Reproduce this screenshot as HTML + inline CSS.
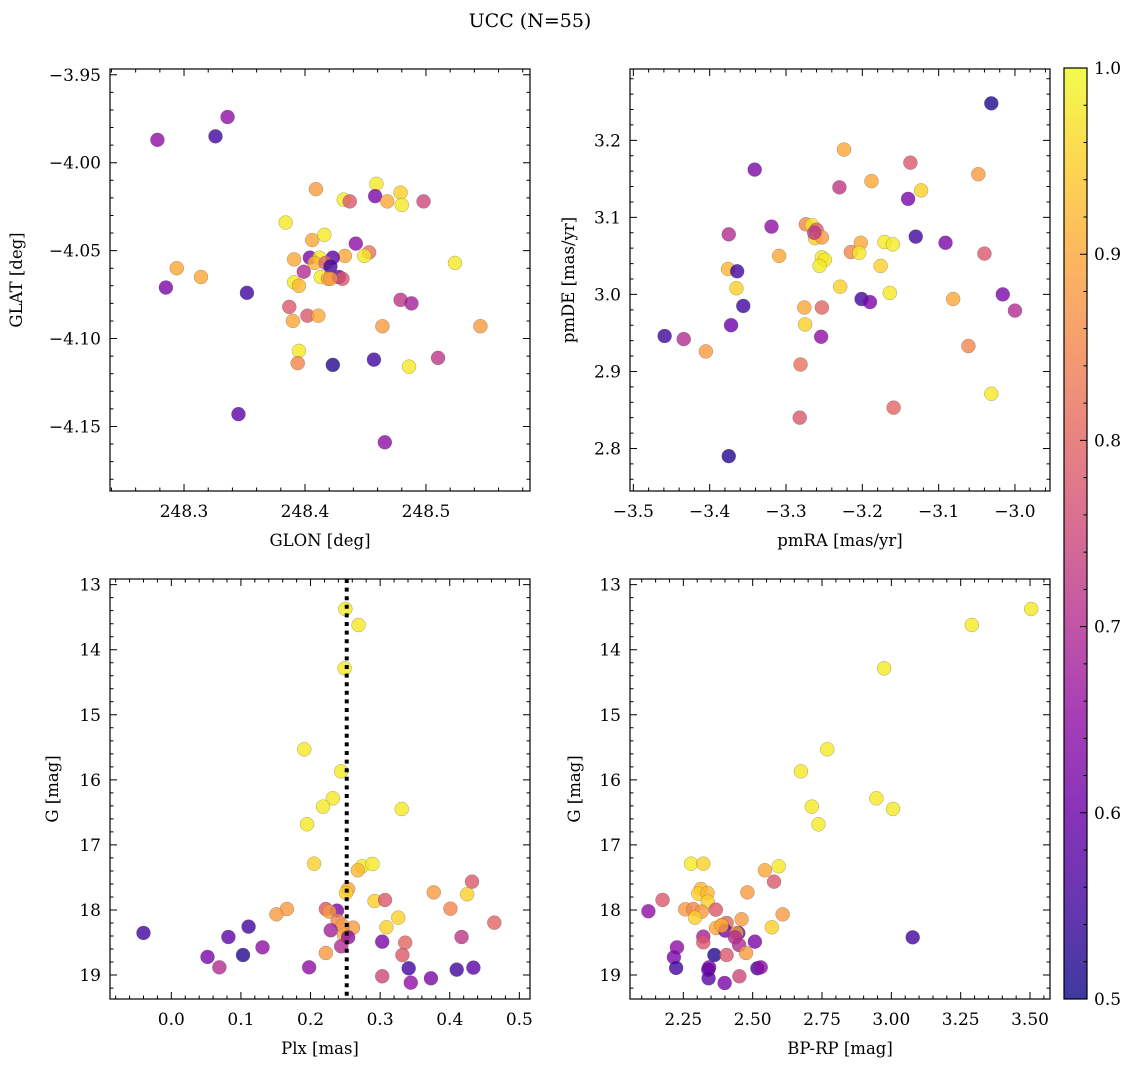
<!DOCTYPE html>
<html><head><meta charset="utf-8">
<style>
html,body{margin:0;padding:0;background:#fff;}
svg{display:block;font-family:"DejaVu Serif","Liberation Serif",serif;}
</style></head>
<body>
<svg id="chart" width="1136" height="1067" viewBox="0 0 1136 1067" xmlns="http://www.w3.org/2000/svg">
<text x="530" y="27" font-size="19" text-anchor="middle">UCC (N=55)</text>
</svg>
<script>
// ---- Panel 1: GLON vs GLAT ----
const glon=[248.278,248.326,248.336,248.409,248.432,248.437,248.459,248.458,248.468,248.479,248.480,248.498,248.384,248.406,248.416,248.442,248.453,248.449,248.433,248.391,248.404,248.412,248.423,248.408,248.417,248.421,248.399,248.524,248.294,248.314,248.285,248.352,248.391,248.395,248.413,248.419,248.428,248.431,248.421,248.387,248.402,248.411,248.390,248.479,248.488,248.464,248.545,248.395,248.394,248.423,248.457,248.486,248.510,248.345,248.466];
const glat=[-3.987,-3.985,-3.974,-4.015,-4.021,-4.022,-4.012,-4.019,-4.022,-4.017,-4.024,-4.022,-4.034,-4.044,-4.041,-4.046,-4.051,-4.053,-4.053,-4.055,-4.054,-4.054,-4.054,-4.057,-4.057,-4.059,-4.062,-4.057,-4.060,-4.065,-4.071,-4.074,-4.068,-4.070,-4.065,-4.066,-4.065,-4.066,-4.066,-4.082,-4.087,-4.087,-4.090,-4.078,-4.080,-4.093,-4.093,-4.107,-4.114,-4.115,-4.112,-4.116,-4.111,-4.143,-4.159];
const prob1=[.65,.55,.65,.88,.98,.78,.98,.62,.9,.95,.98,.75,.98,.9,.98,.65,.82,.98,.9,.9,.62,.98,.58,.92,.8,.55,.7,.98,.9,.9,.62,.55,.98,.92,.98,.9,.6,.78,.88,.78,.78,.9,.9,.72,.68,.88,.88,.98,.85,.52,.55,.98,.72,.58,.65];
// ---- Panel 2: pmRA vs pmDE ----
const pmra=[-3.031,-3.224,-3.137,-3.341,-3.048,-3.188,-3.230,-3.123,-3.140,-3.319,-3.375,-3.274,-3.266,-3.260,-3.262,-3.253,-3.130,-3.091,-3.202,-3.171,-3.160,-3.215,-3.204,-3.040,-3.309,-3.253,-3.249,-3.256,-3.176,-3.376,-3.364,-3.365,-3.229,-3.164,-3.016,-3.201,-3.190,-3.081,-3.356,-3.276,-3.253,-3.000,-3.372,-3.275,-3.459,-3.434,-3.254,-3.405,-3.061,-3.281,-3.031,-3.159,-3.282,-3.375,-3.263];
const pmde=[3.248,3.188,3.171,3.162,3.156,3.147,3.139,3.135,3.124,3.088,3.078,3.091,3.090,3.084,3.073,3.074,3.075,3.067,3.067,3.068,3.065,3.055,3.054,3.053,3.050,3.048,3.045,3.037,3.037,3.033,3.030,3.008,3.010,3.002,3.000,2.994,2.990,2.994,2.985,2.983,2.983,2.979,2.960,2.961,2.946,2.942,2.945,2.926,2.933,2.909,2.871,2.853,2.840,2.790,3.080];
const prob2=[.52,.9,.78,.62,.88,.9,.72,.95,.62,.65,.7,.85,.98,.78,.95,.88,.55,.62,.9,.98,.98,.85,.98,.78,.9,.98,.98,.98,.95,.92,.55,.95,.95,.98,.62,.55,.62,.9,.55,.9,.8,.7,.6,.95,.55,.7,.65,.88,.85,.82,.98,.8,.78,.52,.72];
// ---- Panel 3: Plx vs G ----
const plx=[0.250,0.269,0.249,0.191,0.244,0.232,0.218,0.195,0.331,0.205,0.274,0.289,0.268,0.254,0.251,0.432,0.377,0.425,0.292,0.307,0.401,0.166,0.151,0.222,0.238,0.227,0.239,0.326,0.464,0.261,0.246,0.309,-0.040,0.111,0.082,0.229,0.248,0.254,0.417,0.131,0.303,0.336,0.244,0.052,0.103,0.222,0.332,0.069,0.198,0.341,0.410,0.434,0.303,0.373,0.344];
const gmag3=[13.374,13.620,14.286,15.531,15.869,16.284,16.412,16.683,16.448,17.288,17.329,17.293,17.390,17.677,17.739,17.565,17.729,17.759,17.862,17.846,17.980,17.985,18.067,17.985,18.010,18.026,18.164,18.118,18.195,18.271,18.241,18.266,18.353,18.256,18.415,18.312,18.379,18.420,18.415,18.574,18.487,18.502,18.558,18.722,18.692,18.661,18.692,18.881,18.881,18.896,18.917,18.886,19.019,19.050,19.117];
const prob3=[.98,.98,.98,.98,.98,.98,.98,.98,.98,.95,.98,.98,.92,.9,.95,.78,.88,.95,.95,.78,.85,.88,.88,.78,.62,.88,.85,.95,.8,.88,.88,.95,.55,.55,.58,.68,.9,.65,.72,.65,.62,.8,.7,.62,.52,.88,.78,.7,.65,.55,.55,.58,.75,.62,.65];
const plxRef=0.252;
// ---- Panel 4: BP-RP vs G ----
const bprp=[3.504,3.290,2.974,2.769,2.674,2.946,3.006,2.713,2.737,2.278,2.322,2.594,2.544,2.577,2.481,2.313,2.304,2.337,2.338,2.175,2.124,2.257,2.286,2.316,2.292,2.367,2.608,2.460,2.406,2.389,2.368,2.401,2.448,2.442,2.569,3.077,2.322,2.322,2.451,2.508,2.227,2.362,2.406,2.476,2.216,2.224,2.343,2.340,2.517,2.529,2.341,2.399,2.452,2.388,2.436];
const gmag4=[13.374,13.620,14.286,15.531,15.869,16.284,16.448,16.412,16.683,17.288,17.288,17.329,17.390,17.565,17.729,17.677,17.749,17.739,17.872,17.846,18.020,17.990,17.985,18.026,18.118,17.995,18.067,18.143,18.200,18.231,18.277,18.318,18.354,18.354,18.266,18.420,18.410,18.497,18.538,18.487,18.574,18.692,18.692,18.661,18.727,18.891,18.881,18.917,18.896,18.881,19.050,19.122,19.019,18.241,18.420];
const prob4=[.98,.98,.98,.98,.98,.98,.98,.98,.98,.98,.95,.98,.9,.78,.88,.92,.95,.92,.95,.78,.65,.88,.85,.88,.95,.78,.88,.88,.8,.92,.9,.62,.55,.88,.95,.55,.68,.78,.7,.62,.65,.52,.78,.88,.62,.55,.62,.6,.55,.65,.58,.62,.75,.9,.7];
// ---- tick labels ----
const ticks1x=[248.3,248.4,248.5], ticks1y=[-3.95,-4.00,-4.05,-4.10,-4.15];
const ticks2x=[-3.5,-3.4,-3.3,-3.2,-3.1,-3.0], ticks2y=[2.8,2.9,3.0,3.1,3.2];
const ticks3x=[0.0,0.1,0.2,0.3,0.4,0.5], ticksG=[13,14,15,16,17,18,19];
const ticks4x=[2.25,2.50,2.75,3.00,3.25,3.50];
const cbTicks=[0.5,0.6,0.7,0.8,0.9,1.0];

const NS="http://www.w3.org/2000/svg";
const svg=document.getElementById('chart');
function mk(tag,attrs,parent){const e=document.createElementNS(NS,tag);for(const k in attrs)e.setAttribute(k,attrs[k]);(parent||svg).appendChild(e);return e;}
const stops=[[13,8,135],[65,4,157],[106,0,168],[143,13,164],[177,42,144],[204,71,120],[225,100,98],[242,132,75],[252,166,54],[252,206,37],[240,249,33]];
function plasma(v){let t=Math.max(0,Math.min(1,(v-0.5)/0.5))*10;const i=Math.min(9,Math.floor(t)),f=t-i;const a=stops[i],b=stops[i+1];return 'rgb('+a.map((c,k)=>Math.round(c+(b[k]-c)*f)).join(',')+')';}

function panel(o){
  const g=mk('g',{});
  
  
  const X=v=>o.x0+(v-o.xmin)/(o.xmax-o.xmin)*o.w;
  const Y=v=>o.y0+(o.ymax-v)/(o.ymax-o.ymin)*o.h;
  const pg=mk('g',{},g);
  
  
  for(let i=0;i<o.xs.length;i++){
    const c=mk('circle',{cx:X(o.xs[i]),cy:Y(o.ys[i]),r:7,fill:plasma(o.cs[i]),'fill-opacity':0.8,stroke:'#555','stroke-opacity':0.5,'stroke-width':0.5},pg);
    
    
  }
  if(o.vline!==undefined){
    const l=mk('line',{x1:X(o.vline),x2:X(o.vline),y1:o.y0,y2:o.y0+o.h,stroke:'#000','stroke-width':4,'stroke-dasharray':'4 4.6'},g);
    
    
  }
  const fr=mk('rect',{x:o.x0,y:o.y0,width:o.w,height:o.h,fill:'none',stroke:'#000','stroke-width':1.2},g);
  
  
  let p='';
  const xt=(v,L)=>{const x=X(v);if(x<o.x0-0.1||x>o.x0+o.w+0.1)return;p+=`M${x},${o.y0+o.h}v${-L}M${x},${o.y0}v${L}`;};
  const yt=(v,L)=>{const y=Y(v);if(y<o.y0-0.1||y>o.y0+o.h+0.1)return;p+=`M${o.x0},${y}h${L}M${o.x0+o.w},${y}h${-L}`;};
  const lo=Math.min(o.xmin,o.xmax),hi=Math.max(o.xmin,o.xmax);
  for(let k=Math.ceil(lo/o.xminor);k*o.xminor<=hi;k++)xt(k*o.xminor,3.5);
  for(let k=Math.ceil(o.ymin/o.yminor);k*o.yminor<=o.ymax;k++)yt(k*o.yminor,3.5);
  o.xt.forEach(v=>xt(v,7));o.yt.forEach(v=>yt(v,7));
  const tp=mk('path',{d:p,stroke:'#000','stroke-width':1,fill:'none'},g);
  
  
  o.xt.forEach(v=>{const t=mk('text',{x:X(v),y:o.y0+o.h+26,'font-size':17,'text-anchor':'middle'},g);t.textContent=(v<0?'\u2212':'')+Math.abs(v).toFixed(o.xd);
    
    });
  o.yt.forEach(v=>{const t=mk('text',{x:o.x0-9,y:Y(v)+6,'font-size':17,'text-anchor':'end'},g);t.textContent=o.neg?Math.abs(v).toFixed(o.yd):(v<0?'\u2212':'')+Math.abs(v).toFixed(o.yd);
    
    });
  const xl=mk('text',{x:o.x0+o.w/2,y:o.y0+o.h+55,'font-size':16.5,'text-anchor':'middle'},g);xl.textContent=o.xlabel;
  
  
  const yl=mk('text',{x:0,y:0,'font-size':16.5,'text-anchor':'middle',transform:`translate(${o.ylx},${o.y0+o.h/2}) rotate(-90)`},g);yl.textContent=o.ylabel;
  
  
}

panel({name:'glon-glat-panel',x0:110,y0:69,w:420,h:422,xmin:248.2388,xmax:248.586,ymin:-4.1867,ymax:-3.9467,xs:glon,ys:glat,cs:prob1,xt:ticks1x,yt:ticks1y,xminor:0.02,yminor:0.01,xd:1,yd:2,xlabel:'GLON [deg]',ylabel:'GLAT [deg]',ylx:22});
panel({name:'pm-panel',x0:630,y0:69,w:420,h:422,xmin:-3.5044,xmax:-2.9541,ymin:2.7448,ymax:3.2926,xs:pmra,ys:pmde,cs:prob2,xt:ticks2x,yt:ticks2y,xminor:0.02,yminor:0.02,xd:1,yd:1,xlabel:'pmRA [mas/yr]',ylabel:'pmDE [mas/yr]',ylx:574});
panel({name:'plx-g-panel',x0:110,y0:579,w:420,h:420,xmin:-0.0881,xmax:0.5153,ymin:-19.368,ymax:-12.913,xs:plx,ys:gmag3.map(v=>-v),cs:prob3,xt:ticks3x,yt:ticksG.map(v=>-v),neg:true,xminor:0.02,yminor:0.2,xd:1,yd:0,xlabel:'Plx [mas]',ylabel:'G [mag]',ylx:58,vline:plxRef});
panel({name:'cmd-panel',x0:630,y0:579,w:420,h:420,xmin:2.0577,xmax:3.572,ymin:-19.368,ymax:-12.913,xs:bprp,ys:gmag4.map(v=>-v),cs:prob4,xt:ticks4x,yt:ticksG.map(v=>-v),neg:true,xminor:0.05,yminor:0.2,xd:2,yd:0,xlabel:'BP-RP [mag]',ylabel:'G [mag]',ylx:580});

// ---- colorbar ----
const cb=mk('g',{});


const defs=mk('defs',{},cb);
const lg=mk('linearGradient',{id:'cbg',x1:0,y1:1,x2:0,y2:0},defs);
for(let k=0;k<=20;k++){const v=0.5+k*0.025;mk('stop',{offset:k/20,'stop-color':plasma(v),'stop-opacity':0.8},lg);}
const cbx=1064,cby=68,cbw=23,cbh=931;
const cbr=mk('rect',{x:cbx,y:cby,width:cbw,height:cbh,fill:'url(#cbg)',stroke:'#000','stroke-width':1.2},cb);


const CY=v=>cby+(1.0-v)/0.5*cbh;
let cp='';
for(let k=0;k<=25;k++){const y=CY(0.5+k*0.02);cp+=`M${cbx+cbw},${y}h-3.5`;}
cbTicks.forEach(v=>{cp+=`M${cbx+cbw},${CY(v)}h-7`;});
const cbt=mk('path',{d:cp,stroke:'#000','stroke-width':1,fill:'none'},cb);


cbTicks.forEach(v=>{const t=mk('text',{x:cbx+cbw+7,y:CY(v)+6,'font-size':17},cb);t.textContent=v.toFixed(1);
  
  });
</script>
</body></html>
